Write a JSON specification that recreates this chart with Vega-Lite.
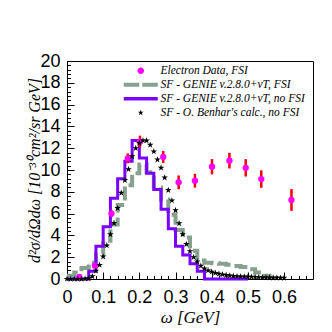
{
  "$schema": "https://vega.github.io/schema/vega-lite/v6.json",
  "width": 246,
  "height": 218,
  "autosize": "none",
  "padding": {"left": 67, "top": 61, "right": 19, "bottom": 53},
  "background": "white",
  "config": {"view": {"stroke": "#000", "strokeWidth": 1}},
  "datasets": {
    "fsi": [
      {"series": "SF - GENIE v.2.8.0+νT, FSI", "w": 0.00, "v": 0.3},
      {"series": "SF - GENIE v.2.8.0+νT, FSI", "w": 0.02, "v": 0.6},
      {"series": "SF - GENIE v.2.8.0+νT, FSI", "w": 0.04, "v": 1.0},
      {"series": "SF - GENIE v.2.8.0+νT, FSI", "w": 0.06, "v": 1.5},
      {"series": "SF - GENIE v.2.8.0+νT, FSI", "w": 0.08, "v": 2.3},
      {"series": "SF - GENIE v.2.8.0+νT, FSI", "w": 0.10, "v": 3.5},
      {"series": "SF - GENIE v.2.8.0+νT, FSI", "w": 0.12, "v": 5.0},
      {"series": "SF - GENIE v.2.8.0+νT, FSI", "w": 0.14, "v": 6.8},
      {"series": "SF - GENIE v.2.8.0+νT, FSI", "w": 0.16, "v": 8.6},
      {"series": "SF - GENIE v.2.8.0+νT, FSI", "w": 0.18, "v": 9.7},
      {"series": "SF - GENIE v.2.8.0+νT, FSI", "w": 0.20, "v": 10.5},
      {"series": "SF - GENIE v.2.8.0+νT, FSI", "w": 0.22, "v": 9.8},
      {"series": "SF - GENIE v.2.8.0+νT, FSI", "w": 0.24, "v": 8.4},
      {"series": "SF - GENIE v.2.8.0+νT, FSI", "w": 0.26, "v": 7.3},
      {"series": "SF - GENIE v.2.8.0+νT, FSI", "w": 0.28, "v": 5.9},
      {"series": "SF - GENIE v.2.8.0+νT, FSI", "w": 0.30, "v": 4.5},
      {"series": "SF - GENIE v.2.8.0+νT, FSI", "w": 0.32, "v": 3.8},
      {"series": "SF - GENIE v.2.8.0+νT, FSI", "w": 0.34, "v": 2.6},
      {"series": "SF - GENIE v.2.8.0+νT, FSI", "w": 0.36, "v": 1.7},
      {"series": "SF - GENIE v.2.8.0+νT, FSI", "w": 0.38, "v": 1.5},
      {"series": "SF - GENIE v.2.8.0+νT, FSI", "w": 0.40, "v": 1.45},
      {"series": "SF - GENIE v.2.8.0+νT, FSI", "w": 0.42, "v": 1.4},
      {"series": "SF - GENIE v.2.8.0+νT, FSI", "w": 0.44, "v": 1.3},
      {"series": "SF - GENIE v.2.8.0+νT, FSI", "w": 0.46, "v": 1.2},
      {"series": "SF - GENIE v.2.8.0+νT, FSI", "w": 0.48, "v": 1.1},
      {"series": "SF - GENIE v.2.8.0+νT, FSI", "w": 0.50, "v": 0.9},
      {"series": "SF - GENIE v.2.8.0+νT, FSI", "w": 0.52, "v": 0.6},
      {"series": "SF - GENIE v.2.8.0+νT, FSI", "w": 0.54, "v": 0.3},
      {"series": "SF - GENIE v.2.8.0+νT, FSI", "w": 0.56, "v": 0}
    ],
    "nofsi": [
      {"series": "SF - GENIE v.2.8.0+νT, no FSI", "w": 0.00, "v": 0},
      {"series": "SF - GENIE v.2.8.0+νT, no FSI", "w": 0.06, "v": 0.7},
      {"series": "SF - GENIE v.2.8.0+νT, no FSI", "w": 0.08, "v": 3.0},
      {"series": "SF - GENIE v.2.8.0+νT, no FSI", "w": 0.10, "v": 4.8},
      {"series": "SF - GENIE v.2.8.0+νT, no FSI", "w": 0.12, "v": 7.4},
      {"series": "SF - GENIE v.2.8.0+νT, no FSI", "w": 0.14, "v": 9.2},
      {"series": "SF - GENIE v.2.8.0+νT, no FSI", "w": 0.16, "v": 10.8},
      {"series": "SF - GENIE v.2.8.0+νT, no FSI", "w": 0.18, "v": 12.7},
      {"series": "SF - GENIE v.2.8.0+νT, no FSI", "w": 0.20, "v": 11.1},
      {"series": "SF - GENIE v.2.8.0+νT, no FSI", "w": 0.22, "v": 9.7},
      {"series": "SF - GENIE v.2.8.0+νT, no FSI", "w": 0.24, "v": 8.2},
      {"series": "SF - GENIE v.2.8.0+νT, no FSI", "w": 0.26, "v": 6.4},
      {"series": "SF - GENIE v.2.8.0+νT, no FSI", "w": 0.28, "v": 4.6},
      {"series": "SF - GENIE v.2.8.0+νT, no FSI", "w": 0.30, "v": 3.0},
      {"series": "SF - GENIE v.2.8.0+νT, no FSI", "w": 0.32, "v": 2.2},
      {"series": "SF - GENIE v.2.8.0+νT, no FSI", "w": 0.34, "v": 1.4},
      {"series": "SF - GENIE v.2.8.0+νT, no FSI", "w": 0.36, "v": 0.7},
      {"series": "SF - GENIE v.2.8.0+νT, no FSI", "w": 0.38, "v": 0},
      {"series": "SF - GENIE v.2.8.0+νT, no FSI", "w": 0.50, "v": 0}
    ],
    "benhar": [
      {"series": "SF - O. Benhar's calc., no FSI", "w": 0.00, "v": 0},
      {"series": "SF - O. Benhar's calc., no FSI", "w": 0.01, "v": 0},
      {"series": "SF - O. Benhar's calc., no FSI", "w": 0.02, "v": 0},
      {"series": "SF - O. Benhar's calc., no FSI", "w": 0.03, "v": 0},
      {"series": "SF - O. Benhar's calc., no FSI", "w": 0.04, "v": 0},
      {"series": "SF - O. Benhar's calc., no FSI", "w": 0.05, "v": 0.02},
      {"series": "SF - O. Benhar's calc., no FSI", "w": 0.06, "v": 0.06},
      {"series": "SF - O. Benhar's calc., no FSI", "w": 0.07, "v": 0.24},
      {"series": "SF - O. Benhar's calc., no FSI", "w": 0.08, "v": 0.76},
      {"series": "SF - O. Benhar's calc., no FSI", "w": 0.09, "v": 1.28},
      {"series": "SF - O. Benhar's calc., no FSI", "w": 0.10, "v": 2.05},
      {"series": "SF - O. Benhar's calc., no FSI", "w": 0.11, "v": 3.07},
      {"series": "SF - O. Benhar's calc., no FSI", "w": 0.12, "v": 4.09},
      {"series": "SF - O. Benhar's calc., no FSI", "w": 0.13, "v": 5.13},
      {"series": "SF - O. Benhar's calc., no FSI", "w": 0.14, "v": 6.5},
      {"series": "SF - O. Benhar's calc., no FSI", "w": 0.15, "v": 7.9},
      {"series": "SF - O. Benhar's calc., no FSI", "w": 0.16, "v": 9.07},
      {"series": "SF - O. Benhar's calc., no FSI", "w": 0.17, "v": 10.07},
      {"series": "SF - O. Benhar's calc., no FSI", "w": 0.18, "v": 11.26},
      {"series": "SF - O. Benhar's calc., no FSI", "w": 0.19, "v": 12.0},
      {"series": "SF - O. Benhar's calc., no FSI", "w": 0.20, "v": 12.47},
      {"series": "SF - O. Benhar's calc., no FSI", "w": 0.21, "v": 12.71},
      {"series": "SF - O. Benhar's calc., no FSI", "w": 0.22, "v": 12.7},
      {"series": "SF - O. Benhar's calc., no FSI", "w": 0.23, "v": 12.3},
      {"series": "SF - O. Benhar's calc., no FSI", "w": 0.24, "v": 11.7},
      {"series": "SF - O. Benhar's calc., no FSI", "w": 0.25, "v": 10.95},
      {"series": "SF - O. Benhar's calc., no FSI", "w": 0.26, "v": 10.2},
      {"series": "SF - O. Benhar's calc., no FSI", "w": 0.27, "v": 9.3},
      {"series": "SF - O. Benhar's calc., no FSI", "w": 0.28, "v": 8.15},
      {"series": "SF - O. Benhar's calc., no FSI", "w": 0.29, "v": 7.2},
      {"series": "SF - O. Benhar's calc., no FSI", "w": 0.30, "v": 6.3},
      {"series": "SF - O. Benhar's calc., no FSI", "w": 0.31, "v": 5.1},
      {"series": "SF - O. Benhar's calc., no FSI", "w": 0.32, "v": 4.1},
      {"series": "SF - O. Benhar's calc., no FSI", "w": 0.33, "v": 3.2},
      {"series": "SF - O. Benhar's calc., no FSI", "w": 0.34, "v": 2.55},
      {"series": "SF - O. Benhar's calc., no FSI", "w": 0.35, "v": 2.0},
      {"series": "SF - O. Benhar's calc., no FSI", "w": 0.36, "v": 1.6},
      {"series": "SF - O. Benhar's calc., no FSI", "w": 0.37, "v": 1.2},
      {"series": "SF - O. Benhar's calc., no FSI", "w": 0.38, "v": 0.95},
      {"series": "SF - O. Benhar's calc., no FSI", "w": 0.39, "v": 0.78},
      {"series": "SF - O. Benhar's calc., no FSI", "w": 0.40, "v": 0.66},
      {"series": "SF - O. Benhar's calc., no FSI", "w": 0.41, "v": 0.55},
      {"series": "SF - O. Benhar's calc., no FSI", "w": 0.42, "v": 0.47},
      {"series": "SF - O. Benhar's calc., no FSI", "w": 0.43, "v": 0.41},
      {"series": "SF - O. Benhar's calc., no FSI", "w": 0.44, "v": 0.36},
      {"series": "SF - O. Benhar's calc., no FSI", "w": 0.45, "v": 0.31},
      {"series": "SF - O. Benhar's calc., no FSI", "w": 0.46, "v": 0.28},
      {"series": "SF - O. Benhar's calc., no FSI", "w": 0.47, "v": 0.25},
      {"series": "SF - O. Benhar's calc., no FSI", "w": 0.48, "v": 0.23},
      {"series": "SF - O. Benhar's calc., no FSI", "w": 0.49, "v": 0.22},
      {"series": "SF - O. Benhar's calc., no FSI", "w": 0.50, "v": 0.2},
      {"series": "SF - O. Benhar's calc., no FSI", "w": 0.51, "v": 0.19},
      {"series": "SF - O. Benhar's calc., no FSI", "w": 0.52, "v": 0.18},
      {"series": "SF - O. Benhar's calc., no FSI", "w": 0.53, "v": 0.16},
      {"series": "SF - O. Benhar's calc., no FSI", "w": 0.54, "v": 0.15},
      {"series": "SF - O. Benhar's calc., no FSI", "w": 0.55, "v": 0.14},
      {"series": "SF - O. Benhar's calc., no FSI", "w": 0.56, "v": 0.13},
      {"series": "SF - O. Benhar's calc., no FSI", "w": 0.57, "v": 0.12},
      {"series": "SF - O. Benhar's calc., no FSI", "w": 0.58, "v": 0.11},
      {"series": "SF - O. Benhar's calc., no FSI", "w": 0.59, "v": 0.1},
      {"series": "SF - O. Benhar's calc., no FSI", "w": 0.60, "v": 0.1}
    ],
    "electron": [
      {"series": "Electron Data, FSI", "w": 0.034, "v": 0.2, "err": 0.1},
      {"series": "Electron Data, FSI", "w": 0.077, "v": 1.22, "err": 0.15},
      {"series": "Electron Data, FSI", "w": 0.123, "v": 6.0, "err": 0.3},
      {"series": "Electron Data, FSI", "w": 0.168, "v": 11.07, "err": 0.45},
      {"series": "Electron Data, FSI", "w": 0.2016, "v": 12.6, "err": 0.55},
      {"series": "Electron Data, FSI", "w": 0.266, "v": 11.2, "err": 0.55},
      {"series": "Electron Data, FSI", "w": 0.3086, "v": 8.87, "err": 0.63},
      {"series": "Electron Data, FSI", "w": 0.3536, "v": 9.02, "err": 0.63},
      {"series": "Electron Data, FSI", "w": 0.4008, "v": 10.3, "err": 0.7},
      {"series": "Electron Data, FSI", "w": 0.449, "v": 10.86, "err": 0.72},
      {"series": "Electron Data, FSI", "w": 0.494, "v": 10.2, "err": 0.8},
      {"series": "Electron Data, FSI", "w": 0.537, "v": 9.17, "err": 0.8},
      {"series": "Electron Data, FSI", "w": 0.6205, "v": 7.25, "err": 1.0}
    ]
  },
  "encoding": {
    "color": {
      "field": "series",
      "type": "nominal",
      "scale": {
        "domain": ["Electron Data, FSI", "SF - GENIE v.2.8.0+νT, FSI", "SF - GENIE v.2.8.0+νT, no FSI", "SF - O. Benhar's calc., no FSI"],
        "range": ["#ff00ff", "#86a28f", "#7a00ff", "#000000"]
      },
      "legend": {
        "orient": "none",
        "legendX": 68,
        "legendY": 4,
        "title": null,
        "padding": 0,
        "symbolSize": 100,
        "symbolStrokeWidth": 0,
        "labelFont": "Liberation Serif",
        "labelFontStyle": "italic",
        "labelFontSize": 11.5,
        "labelColor": "#000",
        "labelOffset": 14,
        "labelLimit": 300,
        "rowPadding": 1,
        "encode": {
          "symbols": {
            "update": {
              "size": {"value": 100},
              "strokeWidth": {"value": 0},
              "shape": {"signal": "indexof(datum.value,'Electron')>=0 ? 'M-0.65,0A0.65,0.65 0 1,0 0.65,0A0.65,0.65 0 1,0 -0.65,0Z' : indexof(datum.value,'Benhar')>=0 ? 'M0,-0.6L0.135,-0.185L0.571,-0.185L0.218,0.071L0.353,0.485L0,0.229L-0.353,0.485L-0.218,0.071L-0.571,-0.185L-0.135,-0.185Z' : indexof(datum.value,'no FSI')>=0 ? 'M-3.4,-0.33H3.4V0.33H-3.4Z' : 'M-3.4,-0.38H-0.3V0.38H-3.4ZM0.3,-0.38H3.4V0.38H0.3Z'"},
              "fill": {"scale": "color", "field": "value"},
              "opacity": {"value": 1},
              "fillOpacity": {"value": 1}
            }
          }
        }
      }
    }
  },
  "resolve": {"axis": {"x": "independent", "y": "independent"}},
  "layer": [
    {
      "data": {"name": "fsi"},
      "mark": {"type": "line", "interpolate": "step-after", "strokeWidth": 4, "strokeDash": [14, 5]},
      "encoding": {
        "x": {"field": "w", "type": "quantitative", "scale": {"domain": [0, 0.68], "nice": false, "zero": false},
          "axis": {"orient": "bottom", "values": [0, 0.1, 0.2, 0.3, 0.4, 0.5, 0.6], "format": "~g", "tickSize": -7, "tickColor": "#000", "domainColor": "#000", "labelPadding": 16, "labelFont": "Liberation Sans", "labelFontSize": 18, "labelColor": "#000", "labelFlush": false, "labelOverlap": false, "grid": false, "title": "ω [GeV]", "titleFont": "Liberation Serif", "titleFontStyle": "italic", "titleFontWeight": "normal", "titleFontSize": 17, "titleColor": "#000", "titlePadding": 3}},
        "y": {"field": "v", "type": "quantitative", "scale": {"domain": [0, 20], "nice": false},
          "axis": {"orient": "left", "values": [0, 2, 4, 6, 8, 10, 12, 14, 16, 18, 20], "format": "d", "tickSize": -7, "tickColor": "#000", "domainColor": "#000", "labelPadding": 14, "labelFont": "Liberation Sans", "labelFontSize": 18, "labelColor": "#000", "labelOverlap": false, "labelFlush": false, "grid": false, "title": "d²σ/dΩdω [10⁻³⁰cm²/sr GeV]", "titleFont": "Liberation Serif", "titleFontStyle": "italic", "titleFontWeight": "normal", "titleFontSize": 16, "titleColor": "#000", "titlePadding": -3}}
      }
    },
    {
      "data": {"name": "nofsi"},
      "mark": {"type": "line", "interpolate": "step-after", "strokeWidth": 3},
      "encoding": {
        "x": {"field": "w", "type": "quantitative", "scale": {"domain": [0, 0.68], "nice": false, "zero": false},
          "axis": {"orient": "bottom", "values": [0.02, 0.04, 0.06, 0.08, 0.12, 0.14, 0.16, 0.18, 0.22, 0.24, 0.26, 0.28, 0.32, 0.34, 0.36, 0.38, 0.42, 0.44, 0.46, 0.48, 0.52, 0.54, 0.56, 0.58, 0.62, 0.64, 0.66], "tickSize": -3.5, "tickColor": "#000", "domain": false, "labels": false, "grid": false, "title": null}},
        "y": {"field": "v", "type": "quantitative", "scale": {"domain": [0, 20], "nice": false},
          "axis": {"orient": "left", "values": [0.4, 0.8, 1.2, 1.6, 2.4, 2.8, 3.2, 3.6, 4.4, 4.8, 5.2, 5.6, 6.4, 6.8, 7.2, 7.6, 8.4, 8.8, 9.2, 9.6, 10.4, 10.8, 11.2, 11.6, 12.4, 12.8, 13.2, 13.6, 14.4, 14.8, 15.2, 15.6, 16.4, 16.8, 17.2, 17.6, 18.4, 18.8, 19.2, 19.6], "tickSize": -3.5, "tickColor": "#000", "domain": false, "labels": false, "grid": false, "title": null}}
      }
    },
    {
      "data": {"name": "electron"},
      "mark": {"type": "errorbar", "ticks": false, "thickness": 2.5},
      "encoding": {
        "x": {"field": "w", "type": "quantitative", "scale": {"domain": [0, 0.68], "nice": false, "zero": false}, "axis": null},
        "y": {"field": "v", "type": "quantitative", "scale": {"domain": [0, 20], "nice": false}, "axis": null},
        "yError": {"field": "err"},
        "color": {"value": "#ff0000"}
      }
    },
    {
      "data": {"name": "electron"},
      "mark": {"type": "point", "filled": true, "shape": "circle", "size": 40, "opacity": 1},
      "encoding": {
        "x": {"field": "w", "type": "quantitative", "scale": {"domain": [0, 0.68], "nice": false, "zero": false}, "axis": null},
        "y": {"field": "v", "type": "quantitative", "scale": {"domain": [0, 20], "nice": false}, "axis": null},
        "color": {"value": "#ff00ff"}
      }
    },
    {
      "data": {"name": "benhar"},
      "mark": {"type": "point", "filled": true, "shape": "M0,-1L0.225,-0.309L0.951,-0.309L0.363,0.118L0.588,0.809L0,0.382L-0.588,0.809L-0.363,0.118L-0.951,-0.309L-0.225,-0.309Z", "size": 48, "opacity": 1},
      "encoding": {
        "x": {"field": "w", "type": "quantitative", "scale": {"domain": [0, 0.68], "nice": false, "zero": false}, "axis": null},
        "y": {"field": "v", "type": "quantitative", "scale": {"domain": [0, 20], "nice": false}, "axis": null},
        "color": {"value": "#000000"}
      }
    }
  ]
}
